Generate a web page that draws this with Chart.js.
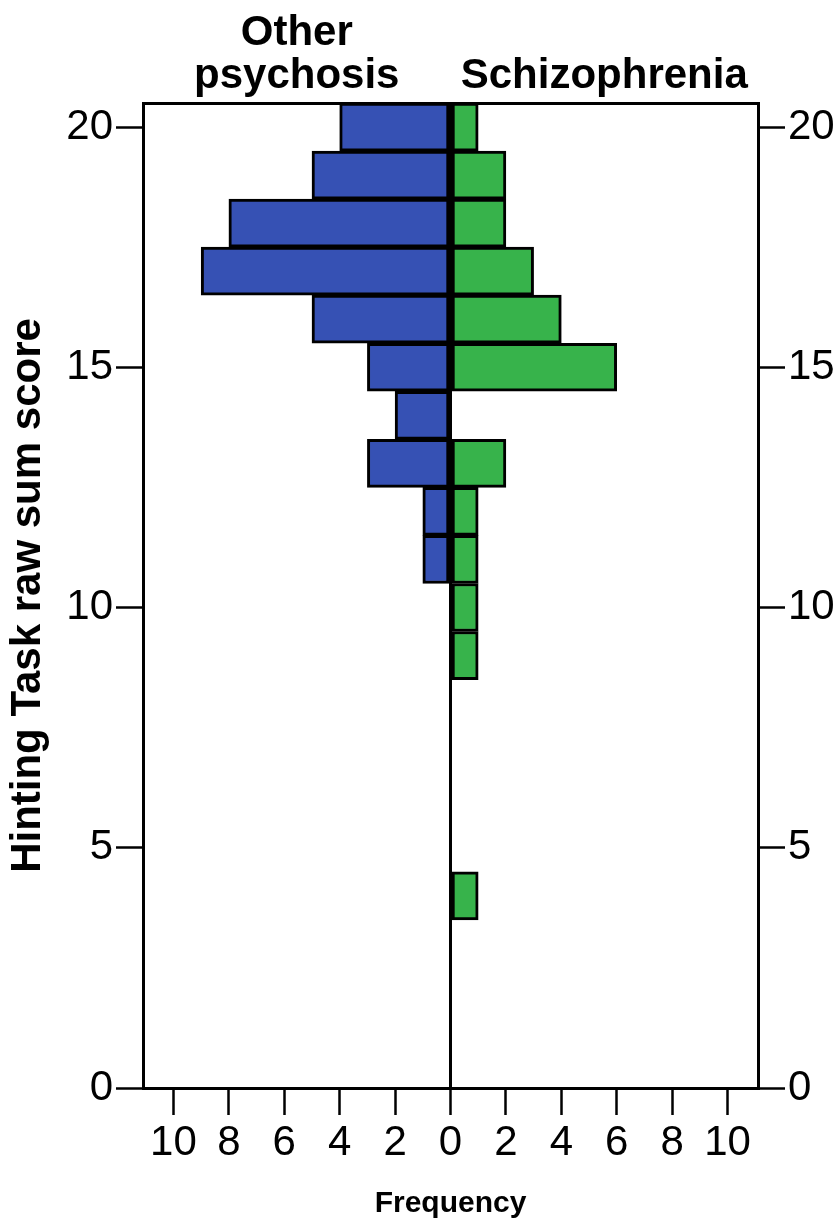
<!DOCTYPE html>
<html>
<head>
<meta charset="utf-8">
<script src="https://cdn.jsdelivr.net/npm/chart.js@4/dist/chart.umd.min.js"></script>
<style>
  html, body { margin: 0; padding: 0; background: #fff; }
  #wrap { width: 837px; height: 1222px; }
</style>
</head>
<body>
<div id="wrap"><canvas id="chart"></canvas></div>
<script>
// Wyniki (sum score) i liczebności w każdej grupie
const scores = [20, 19, 18, 17, 16, 15, 14, 13, 12, 11, 10, 9, 8, 7, 6, 5, 4, 3, 2, 1, 0];
const otherPsychosis = [4, 5, 8, 9, 5, 3, 2, 3, 1, 1, 0, 0, 0, 0, 0, 0, 0, 0, 0, 0, 0];
const schizophrenia = [1, 2, 2, 3, 4, 6, 0, 2, 1, 1, 1, 1, 0, 0, 0, 0, 1, 0, 0, 0, 0];

// Etykiety osi
const yTicks = [0, 5, 10, 15, 20];
const xTicks = [-10, -8, -6, -4, -2, 0, 2, 4, 6, 8, 10];
const groupTitles = [["Other", "psychosis"], ["Schizophrenia"]];

const FONT = "'Liberation Sans', Arial, sans-serif";
Chart.defaults.font.family = FONT;
Chart.defaults.color = "#000";

// lewa grupa idzie w lewo (wartości ujemne)
function toPoints(counts, sign) {
    const pts = [];
    for (let i = 0; i < scores.length; i++) {
        if (counts[i] > 0) pts.push({ x: sign * counts[i], y: scores[i] });
    }
    return pts;
}

// Tytuły nad połówkami wykresu
const panelTitles = {
    id: "panelTitles",
    afterDraw(chart) {
        const { ctx, chartArea } = chart;
        const x0 = chart.scales.x.getPixelForValue(0);
        const centers = [(chartArea.left + x0) / 2, (x0 + chartArea.right) / 2];
        ctx.save();
        ctx.font = "bold 42px " + FONT;
        ctx.fillStyle = "#000";
        ctx.textAlign = "center";
        ctx.textBaseline = "alphabetic";
        groupTitles.forEach((lines, g) => {
            let y = 88;
            for (let i = lines.length - 1; i >= 0; i--) {
                ctx.fillText(lines[i], centers[g], y);
                y -= 43;
            }
        });
        ctx.restore();
    },
};

const tickGrid = {
    offset: false,
    drawOnChartArea: false,
    tickLength: 27,
    tickColor: "#000",
    tickWidth: 2.5,
};
const border = { color: "#000", width: 3 };

const ctx = document.getElementById("chart").getContext("2d");
const chart = new Chart(ctx, {
    type: "bar",
    data: {
        datasets: [
            {
                label: "Other psychosis",
                data: toPoints(otherPsychosis, -1),
                backgroundColor: "#3651B4",
                borderColor: "#000",
                borderWidth: 3,
                borderSkipped: false,
            },
            {
                label: "Schizophrenia",
                data: toPoints(schizophrenia, 1),
                backgroundColor: "#37B34B",
                borderColor: "#000",
                borderWidth: 3,
                borderSkipped: false,
            },
        ],
    },
    options: {
        indexAxis: "y",
        responsive: true,
        maintainAspectRatio: false,
        animation: false,
        barPercentage: 1,
        categoryPercentage: 1,
        layout: { padding: 0 },
        plugins: {
            legend: { display: false },
            tooltip: { enabled: false },
        },
        scales: {
            x: {
                type: "linear",
                position: "bottom",
                stacked: true,
                min: -11.1,
                max: 11.1,
                afterBuildTicks: (s) => { s.ticks = xTicks.map((v) => ({ value: v })); },
                afterFit: (s) => { s.height = 134; },
                ticks: {
                    autoSkip: false,
                    maxRotation: 0,
                    padding: 3,
                    font: { size: 42 },
                    callback: (v) => Math.abs(v),
                },
                grid: {
                    drawOnChartArea: true,
                    color: (c) => (c.tick && c.tick.value === 0 ? "#000" : "rgba(0,0,0,0)"),
                    lineWidth: 3,
                    tickLength: 27,
                    tickColor: "#000",
                    tickWidth: 2.5,
                },
                border: border,
                title: {
                    display: true,
                    text: "Frequency",
                    font: { size: 30, weight: "bold" },
                    padding: { top: 0, bottom: 0 },
                },
            },
            xTop: {
                type: "linear",
                position: "top",
                min: -11.1,
                max: 11.1,
                afterFit: (s) => { s.height = 103; },
                ticks: { display: false },
                grid: { display: false, drawTicks: false },
                border: border,
            },
            y: {
                type: "linear",
                position: "left",
                stacked: true,
                offset: false,
                min: 0,
                max: 20.5,
                afterBuildTicks: (s) => { s.ticks = yTicks.map((v) => ({ value: v })); },
                afterFit: (s) => { s.width = 143; },
                ticks: { autoSkip: false, padding: 3, font: { size: 42 } },
                grid: tickGrid,
                border: border,
                title: {
                    display: true,
                    text: "Hinting Task raw sum score",
                    font: { size: 42, weight: "bold" },
                    padding: { top: 3, bottom: 0 },
                },
            },
            yRight: {
                type: "linear",
                position: "right",
                offset: false,
                min: 0,
                max: 20.5,
                afterBuildTicks: (s) => { s.ticks = yTicks.map((v) => ({ value: v })); },
                afterFit: (s) => { s.width = 79; },
                ticks: { autoSkip: false, padding: 3, font: { size: 42 } },
                grid: tickGrid,
                border: border,
            },
        },
    },
    plugins: [panelTitles],
});
</script>
</body>
</html>
